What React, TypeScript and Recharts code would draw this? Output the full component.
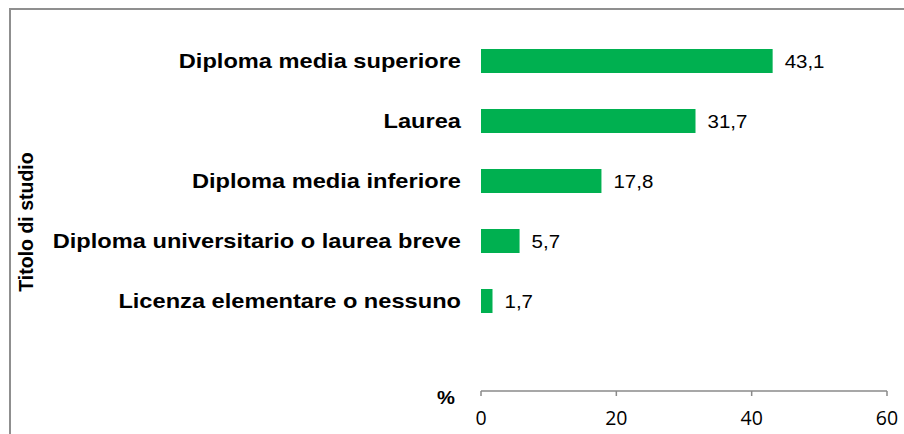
import { BarChart, Bar, XAxis, YAxis, LabelList } from 'recharts';

const categories = [
  'Diploma media superiore',
  'Laurea',
  'Diploma media inferiore',
  'Diploma universitario o laurea breve',
  'Licenza elementare o nessuno',
];
const values = [43.1, 31.7, 17.8, 5.7, 1.7];
const xTicks = [0, 20, 40, 60];

const data = categories.map((name, i) => ({ name, value: values[i] }));

const arial = '"Liberation Sans", Arial, sans-serif';
// the reference text is a little wider than plain Arial
const stretch = 1.12;

function CategoryTick({ x, y, payload }: any) {
  return (
    <text
      transform={`translate(${x},${y}) scale(${stretch},1)`}
      textAnchor="end"
      dy="0.355em"
      fontFamily={arial}
      fontWeight="bold"
      fontSize={21.1}
      fill="#000"
    >
      {payload.value}
    </text>
  );
}

function ValueLabel({ x, y, width, height, value }: any) {
  const tx = Number(x) + Number(width) + 12;
  const ty = Number(y) + Number(height) / 2;
  return (
    <text
      transform={`translate(${tx},${ty}) scale(${stretch},1)`}
      dy="0.355em"
      fontFamily={arial}
      fontSize={18.3}
      fill="#000"
    >
      {Number(value).toFixed(1).replace('.', ',')}
    </text>
  );
}

export default function App() {
  return (
    <div style={{ position: 'fixed', left: 0, top: 0, width: 904, height: 434, overflow: 'hidden', background: '#fff' }}>
      <div
        style={{
          position: 'absolute',
          left: 9,
          top: 8,
          width: 1200,
          height: 800,
          borderLeft: '2px solid #8f8f8f',
          borderTop: '2px solid #8f8f8f',
        }}
      />
      <div style={{ position: 'absolute', left: 0, top: 0 }}>
        <BarChart
          width={904}
          height={434}
          data={data}
          layout="vertical"
          margin={{ top: 31, right: 17, left: 0, bottom: 0 }}
        >
          <XAxis
            type="number"
            domain={[0, 60]}
            ticks={xTicks}
            height={43}
            stroke="#8a8a8a"
            strokeWidth={1.5}
            tickSize={5}
            tickMargin={15}
            tick={{ fill: '#000', fontSize: 19.5, fontFamily: '"Open Sans", sans-serif' }}
            label={{
              content: () => (
                <text
                  transform={`translate(446,404) scale(${stretch},1)`}
                  textAnchor="middle"
                  fontFamily={arial}
                  fontWeight="bold"
                  fontSize={18}
                  fill="#000"
                >
                  %
                </text>
              ),
            }}
          />
          <YAxis
            type="category"
            dataKey="name"
            width={481}
            padding={{ top: 0, bottom: 60 }}
            axisLine={false}
            tickLine={false}
            tickSize={6}
            tickMargin={14}
            interval={0}
            tick={<CategoryTick />}
            label={{
              content: () => (
                <text
                  x={33}
                  y={222}
                  transform="rotate(-90 33 222)"
                  textAnchor="middle"
                  fontFamily={arial}
                  fontWeight="bold"
                  fontSize={19.5}
                  fill="#000"
                >
                  Titolo di studio
                </text>
              ),
            }}
          />
          <Bar dataKey="value" fill="#00b050" barSize={24} isAnimationActive={false}>
            <LabelList dataKey="value" content={<ValueLabel />} />
          </Bar>
        </BarChart>
      </div>
    </div>
  );
}
